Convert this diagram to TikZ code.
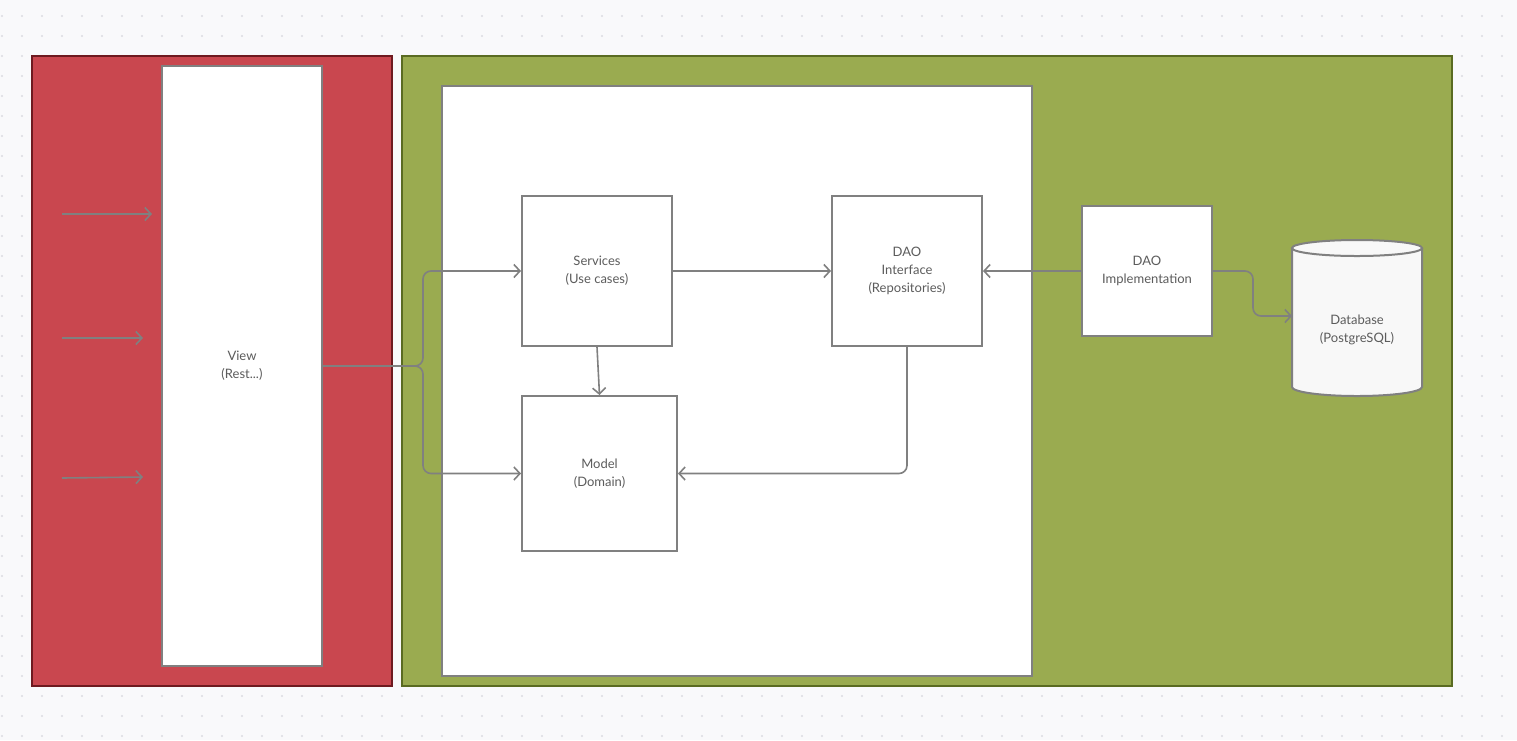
\documentclass[tikz,border=0pt]{standalone}
\usepackage{fontspec}
\setmainfont{Lato}
\usetikzlibrary{arrows.meta, positioning}
\definecolor{bggray}{HTML}{F9F9FB}
\definecolor{dotgray}{HTML}{DCDCE2}
\definecolor{panelred}{HTML}{C9474F}
\definecolor{redborder}{HTML}{6E1A20}
\definecolor{panelgreen}{HTML}{9AAB50}
\definecolor{greenborder}{HTML}{5A6B22}
\definecolor{linegray}{HTML}{808080}
\definecolor{textgray}{HTML}{5C5C5C}
\definecolor{dbfill}{HTML}{F8F8F8}
\tikzstyle{block} = [draw=linegray, fill=white, rectangle, line width=2pt,
    inner sep=0pt, align=center, text=textgray, font=\fontsize{13}{18}\selectfont]
\tikzstyle{label} = [align=center, text=textgray, font=\fontsize{13}{18}\selectfont]
\tikzstyle{frame} = [draw=linegray, fill=white, line width=2pt]
\tikzstyle{conn} = [draw=linegray, line width=1.6pt, -{Straight Barb[length=6pt,width=13pt]}]
\tikzstyle{input} = [coordinate]

\begin{document}
\begin{tikzpicture}[x=1pt, y=-1pt]
    % Background with the dot grid
    \fill[bggray] (0,0) rectangle (1517,740);
    \foreach \i in {0,...,75}
        \foreach \j in {0,...,36}
            \fill[dotgray] (2+20*\i,16+20*\j) circle (1.2pt);

    % The two panels and the inner frame
    \draw[fill=panelred, draw=redborder, line width=1.6pt] (32,56) rectangle (392,686);
    \draw[fill=panelgreen, draw=greenborder, line width=1.6pt] (402,56) rectangle (1452,686);
    \draw[frame] (442,86) rectangle (1032,676);

    % We start by placing the blocks
    \node [block, minimum width=160pt, minimum height=600pt] (view) at (242,366) {View\\(Rest...)};
    \node [block, minimum size=150pt] (services) at (597,271) {Services\\(Use cases)};
    \node [block, minimum size=150pt] (daoif) [right=158pt of services] {DAO\\Interface\\(Repositories)};
    \node [block, minimum size=155pt, xshift=2.5pt] (model) [below=48pt of services] {Model\\(Domain)};
    \node [block, minimum size=130pt] (daoimpl) [right=98pt of daoif] {DAO\\Implementation};

    % The database cylinder
    \path[fill=dbfill] (1292,248) -- (1292,387)
        arc[start angle=180, end angle=360, x radius=65pt, y radius=9pt] -- (1422,248)
        arc[start angle=0, end angle=180, x radius=65pt, y radius=8pt] -- cycle;
    \draw[draw=linegray, line width=2pt] (1292,248) -- (1292,387)
        arc[start angle=180, end angle=360, x radius=65pt, y radius=9pt] -- (1422,248);
    \draw[draw=linegray, fill=dbfill, line width=2pt] (1357,248) ellipse[x radius=65pt, y radius=8pt];
    \node [label] (db) at (1357,330) {Database\\(PostgreSQL)};
    \coordinate (dbin) at (1292,316);

    % Incoming requests
    \node [input] (in1) at (62,214) {};
    \node [input] (in2) at (62,338) {};
    \node [input] (in3) at (62,478) {};
    \node [input] (out1) at (152,214) {};
    \node [input] (out2) at (143,338) {};
    \node [input] (out3) at (143,477) {};
    \coordinate (split) at (423,366);

    % Once the nodes are placed, connecting them is easy.
    \draw [conn] (in1) -- (out1);
    \draw [conn] (in2) -- (out2);
    \draw [conn] (in3) -- (out3);
    \draw [conn, rounded corners=8pt] (view.east) -- (split) |- (services.west);
    \draw [conn, rounded corners=8pt] (view.east) -- (split) |- (model.west);
    \draw [conn] (services) -- (daoif);
    \draw [conn] (daoimpl) -- (daoif);
    \draw [conn] (services.south) -- (model.north);
    \draw [conn, rounded corners=8pt] (daoif.south) |- (model.east);
    \draw [conn, rounded corners=8pt] (daoimpl.east) -- ++(40pt,0) |- (dbin);
\end{tikzpicture}
\end{document}
